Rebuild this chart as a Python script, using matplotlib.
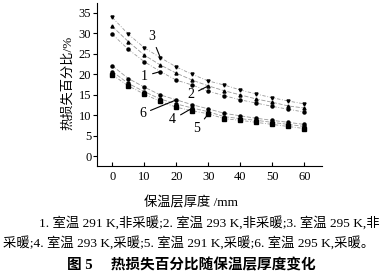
import matplotlib
matplotlib.use('Agg')
import matplotlib.pyplot as plt

plt.rcParams['font.family'] = ['Liberation Serif', 'Noto Sans CJK SC']

thickness = [0, 5, 10, 15, 20, 25, 30, 35, 40, 45, 50, 55, 60]

# not heated
s1 = [29.8, 26.1, 23.1, 20.7, 18.6, 17.4, 15.9, 14.8, 13.8, 13.0, 12.2, 11.5, 10.8]  # 291 K
s2 = [31.7, 28.0, 24.7, 22.3, 20.3, 18.6, 17.2, 16.0, 15.0, 14.0, 13.2, 12.3, 11.8]  # 293 K
s3 = [33.9, 29.8, 26.5, 24.1, 21.8, 20.0, 18.4, 17.4, 16.2, 15.2, 14.3, 13.5, 12.8]  # 295 K
# heated
s4 = [20.7, 17.8, 15.8, 14.0, 12.8, 11.8, 10.9, 9.7, 9.2, 8.8, 8.3, 7.8, 7.3]  # 293 K
s5 = [19.9, 17.2, 15.2, 13.4, 12.0, 11.1, 10.4, 9.2, 8.8, 8.3, 7.8, 7.3, 6.8]  # 291 K
s6 = [22.1, 19.0, 16.9, 15.0, 13.8, 12.6, 11.6, 10.5, 9.9, 9.3, 8.8, 8.3, 7.8]  # 295 K

fig = plt.figure(figsize=(3.83, 2.76), dpi=100)
ax = fig.add_axes([0.253, 0.399, 0.588, 0.59])

styles = [(s1, 'o', (0, (4, 2, 1, 2))), (s2, '^', (0, (5, 2))),
          (s3, 'v', (0, (4, 2, 1, 2))), (s4, 'o', (0, (5, 2))),
          (s5, 's', (0, (4, 2, 1, 2))), (s6, 'o', (0, (5, 2)))]
for s, m, ls in styles:
    ax.plot(thickness, s, linestyle=ls, color='#999999', linewidth=0.6)
    ax.plot(thickness, s, m, color='black', markersize=2.2, linewidth=0)

# curve numbers with leader lines: (label, point index, series, text position)
notes = [('3', 3, s3, (12.3, 29.3)), ('1', 3, s1, (10.0, 19.6)),
         ('2', 6, s2, (24.4, 15.0)), ('6', 4, s6, (9.4, 10.4)),
         ('4', 5, s4, (18.8, 9.0)), ('5', 6, s5, (26.4, 6.8))]
for txt, i, s, pos in notes:
    ax.annotate(txt, xy=(thickness[i], s[i]), xytext=pos,
                fontsize=10, ha='center', va='center',
                arrowprops=dict(arrowstyle='-', color='black', lw=0.8,
                                shrinkA=1.5, shrinkB=0))

ax.set_xlim(-4.8, 65.5)
ax.set_ylim(-2.3, 37.4)
ax.set_xticks(range(0, 61, 10))
ax.set_yticks(range(0, 36, 5))
ax.tick_params(axis='x', direction='in', length=3, labelsize=9, pad=4)
ax.tick_params(axis='y', direction='out', length=3, labelsize=9, pad=1)
ax.spines['top'].set_visible(False)
ax.spines['right'].set_visible(False)
ax.spines['left'].set_linewidth(0.8)
ax.spines['bottom'].set_linewidth(0.8)

fig.text(0.178, 0.70, '热损失百分比/%', rotation=90, fontsize=9.5,
         ha='center', va='center')
fig.text(0.5, 0.265, '保温层厚度 /mm', fontsize=9.5, ha='center', va='center')
fig.text(0.992, 0.192,
         '1. 室温 291 K,非采暖;2. 室温 293 K,非采暖;3. 室温 295 K,非',
         fontsize=9.6, ha='right', va='center')
fig.text(0.008, 0.12,
         '采暖;4. 室温 293 K,采暖;5. 室温 291 K,采暖;6. 室温 295 K,采暖。',
         fontsize=9.6, ha='left', va='center')
fig.text(0.5, 0.04, '图 5　 热损失百分比随保温层厚度变化', fontsize=10.5,
         fontweight='bold', ha='center', va='center')

fig.savefig('out.png', dpi=100)
